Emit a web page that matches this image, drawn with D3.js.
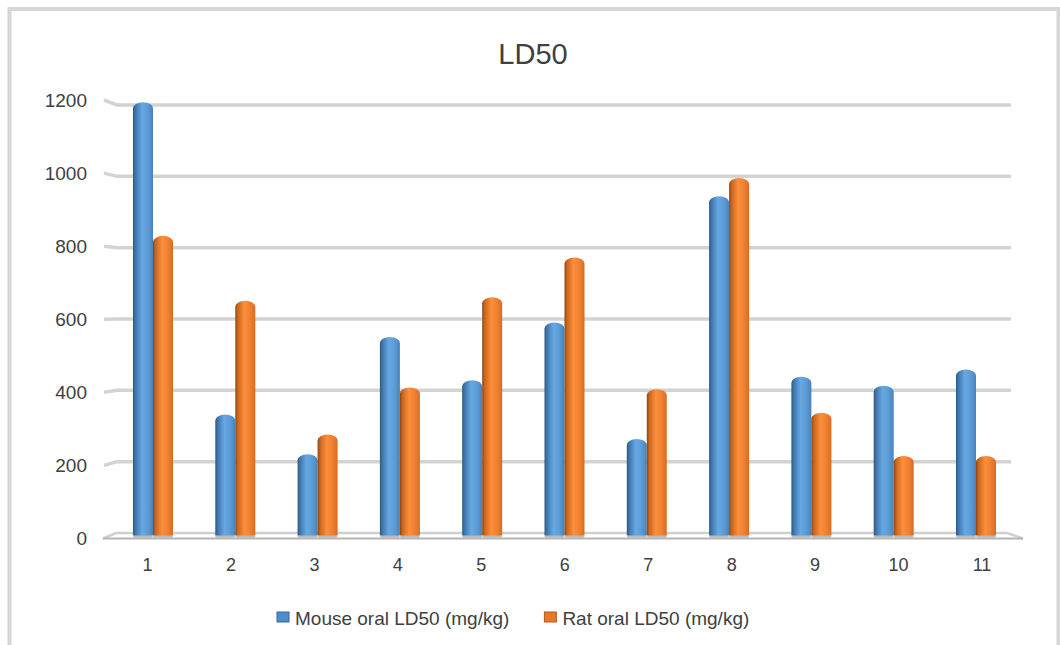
<!DOCTYPE html>
<html>
<head>
<meta charset="utf-8">
<script src="https://cdn.jsdelivr.net/npm/d3@7"></script>
<style>
  body { margin: 0; background: #fff; }
  text { font-family: "Liberation Sans", Arial, sans-serif; fill: #404040; }
</style>
</head>
<body>
<div id="chart"></div>
<script>
var width = 1060;
var height = 645;

// data
var categories = ["1", "2", "3", "4", "5", "6", "7", "8", "9", "10", "11"];
var seriesNames = ["Mouse oral LD50 (mg/kg)", "Rat oral LD50 (mg/kg)"];
var mouseValues = [1200, 335, 225, 550, 430, 590, 267, 940, 440, 415, 460];
var ratValues = [830, 650, 280, 410, 660, 770, 405, 990, 340, 220, 220];
var yTicks = [0, 200, 400, 600, 800, 1000, 1200];
var chartTitle = "LD50";

var series = [mouseValues, ratValues];
var gradIds = ["gBlue", "gOrange"];

var svg = d3.select("#chart")
    .append("svg")
    .attr("width", width)
    .attr("height", height);

// gradients to make the bars look like cylinders
var defs = svg.append("defs");
var blueStops = [[0, "#2c5781"], [0.12, "#3e76ac"], [0.45, "#67a8e3"], [0.75, "#5b9bd5"], [1, "#4982b9"]];
var orangeStops = [[0, "#8a4410"], [0.12, "#c9651d"], [0.45, "#fc8e3c"], [0.75, "#f08031"], [1, "#d66d22"]];
[blueStops, orangeStops].forEach(function(stops, i) {
    var g = defs.append("linearGradient").attr("id", gradIds[i]);
    stops.forEach(function(s) {
        g.append("stop").attr("offset", s[0]).attr("stop-color", s[1]);
    });
});

// outer border
svg.append("rect")
    .attr("x", 9.5)
    .attr("y", 9)
    .attr("width", 1049)
    .attr("height", 660)
    .attr("fill", "none")
    .attr("stroke", "#d6d6d6")
    .attr("stroke-width", 4);

// title
svg.append("text")
    .text(chartTitle)
    .attr("x", 533)
    .attr("y", 64)
    .attr("text-anchor", "middle")
    .style("font-size", "29px");

// scales: back wall, front edge and the bars sit at slightly different depths
var yBack = d3.scaleLinear().domain([0, 1200]).range([533, 105]);
var yFront = d3.scaleLinear().domain([0, 1200]).range([538.5, 100]);
var yBar = d3.scaleLinear().domain([0, 1200]).range([535.5, 102.3]);

var x0 = d3.scaleBand()
    .domain(categories)
    .range([111.85, 1017.15])
    .paddingInner(0.514)
    .paddingOuter(0.257);
var x1 = d3.scaleBand()
    .domain([0, 1])
    .range([0, x0.bandwidth()]);
var xLabel = d3.scaleBand()
    .domain(categories)
    .range([105.8, 1023.7]);

// gridlines with a little side-wall stub on the left
svg.append("g")
    .selectAll("path")
    .data(yTicks.filter(d => d > 0))
    .enter()
    .append("path")
    .attr("d", d => "M104," + yFront(d) + "L117," + yBack(d) + "L1011," + yBack(d))
    .attr("fill", "none")
    .attr("stroke", "#d3d3d3")
    .attr("stroke-width", 3.5);

// floor
svg.append("path")
    .attr("d", "M103," + yFront(0) + "L116," + yBack(0) + "L1007," + yBack(0) + "L1023," + yFront(0))
    .attr("fill", "none")
    .attr("stroke", "#cfcfcf")
    .attr("stroke-width", 2.5);
svg.append("line")
    .attr("x1", 103)
    .attr("x2", 1023)
    .attr("y1", yFront(0))
    .attr("y2", yFront(0))
    .attr("stroke", "#b4b4b4")
    .attr("stroke-width", 2);

// y tick labels
svg.append("g")
    .selectAll("text")
    .data(yTicks)
    .enter()
    .append("text")
    .text(d => d)
    .attr("x", 87)
    .attr("y", d => yFront(d))
    .attr("dy", "0.36em")
    .attr("text-anchor", "end")
    .style("font-size", "19px");

// x tick labels
svg.append("g")
    .selectAll("text")
    .data(categories)
    .enter()
    .append("text")
    .text(d => d)
    .attr("x", d => xLabel(d) + xLabel.bandwidth() / 2)
    .attr("y", 571)
    .attr("text-anchor", "middle")
    .style("font-size", "18px");

function cylinder(x, w, top, bottom) {
    var h = Math.min(6, (bottom - top) / 2);
    return "M" + x + "," + bottom +
        "L" + x + "," + (top + h) +
        "A" + (w / 2) + "," + h + " 0 0 1 " + (x + w) + "," + (top + h) +
        "L" + (x + w) + "," + bottom + "Z";
}

// bars
var groups = svg.append("g")
    .selectAll("g")
    .data(categories)
    .enter()
    .append("g")
    .attr("transform", d => "translate(" + x0(d) + ",0)");

groups.selectAll("ellipse")
    .data((d, i) => series.map((s, k) => ({ k: k, v: s[i] })))
    .enter()
    .append("ellipse")
    .attr("cx", d => x1(d.k) + x1.bandwidth() / 2)
    .attr("cy", yBar(0) + 1)
    .attr("rx", x1.bandwidth() / 2)
    .attr("ry", 2.5)
    .attr("fill", "#bcbcbc");

groups.selectAll("path")
    .data((d, i) => series.map((s, k) => ({ k: k, v: s[i] })))
    .enter()
    .append("path")
    .attr("d", d => cylinder(x1(d.k), x1.bandwidth(), yBar(d.v), yBar(0)))
    .attr("fill", d => "url(#" + gradIds[d.k] + ")");

// legend
var legendFills = ["#4f8cc9", "#e8772b"];
var legendStrokes = ["#35689c", "#b05a1c"];
var legend = svg.append("g");
var lx = 277;
seriesNames.forEach(function(name, i) {
    legend.append("rect")
        .attr("x", lx)
        .attr("y", 612)
        .attr("width", 12)
        .attr("height", 10)
        .attr("fill", legendFills[i])
        .attr("stroke", legendStrokes[i])
        .attr("stroke-width", 1);
    var t = legend.append("text")
        .text(name)
        .attr("x", lx + 18)
        .attr("y", 625)
        .style("font-size", "19px");
    lx = lx + 18 + t.node().getComputedTextLength() + 35;
});
</script>
</body>
</html>
